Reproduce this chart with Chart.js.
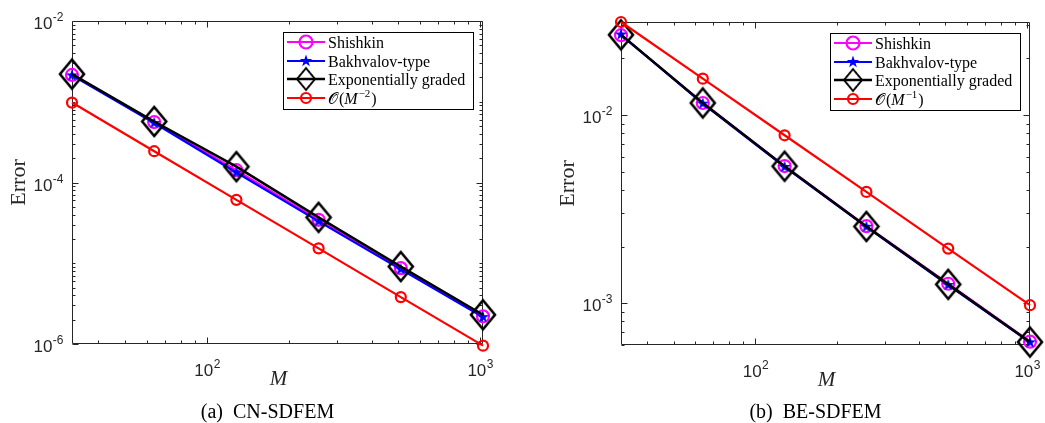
<!DOCTYPE html>
<html><head><meta charset="utf-8">
<script src="https://cdn.jsdelivr.net/npm/chart.js@4/dist/chart.umd.min.js"></script>
<style>
html,body{margin:0;padding:0;background:#fff;}
#wrap{position:relative;width:1045px;height:423px;overflow:hidden;background:#fff;}
canvas{position:absolute;top:0;}
</style></head><body>
<div id="wrap">
<canvas id="c1" width="522" height="423" style="left:0px"></canvas>
<canvas id="c2" width="523" height="423" style="left:522px"></canvas>
</div>
<script>
// ---- data ----
const M = [32, 64, 128, 256, 512, 1024];
// (a) CN-SDFEM
const shishkinCN  = [2.15e-3, 5.6e-4, 1.42e-4, 3.45e-5, 8.7e-6, 2.2e-6];
const bakhvalovCN = [2.12e-3, 5.45e-4, 1.33e-4, 3.3e-5, 8.4e-6, 2.15e-6];
const expCN       = [2.2e-3, 5.7e-4, 1.57e-4, 3.7e-5, 9.1e-6, 2.3e-6];
const refCN       = [9.77e-4, 2.44e-4, 6.1e-5, 1.53e-5, 3.81e-6, 9.54e-7];
// (b) BE-SDFEM
const shishkinBE  = [2.66e-2, 1.16e-2, 5.36e-3, 2.57e-3, 1.27e-3, 6.25e-4];
const bakhvalovBE = [2.68e-2, 1.15e-2, 5.3e-3, 2.55e-3, 1.25e-3, 6.2e-4];
const expBE       = [2.67e-2, 1.16e-2, 5.35e-3, 2.56e-3, 1.26e-3, 6.22e-4];
const refBE       = [3.125e-2, 1.5625e-2, 7.8125e-3, 3.906e-3, 1.953e-3, 9.766e-4];

const seriesNames = ['Shishkin', 'Bakhvalov-type', 'Exponentially graded'];
const xTickLabels = [{v: 100, e: '2'}, {v: 1000, e: '3'}];
const yTickLabelsCN = [{v: 1e-2, e: '-2'}, {v: 1e-4, e: '-4'}, {v: 1e-6, e: '-6'}];
const yTickLabelsBE = [{v: 1e-2, e: '-2'}, {v: 1e-3, e: '-3'}];

// ---- marker images ----
function makeStar(){
  const c = document.createElement('canvas'); c.width = 16; c.height = 16;
  const g = c.getContext('2d'); g.fillStyle = '#0000ff'; g.beginPath();
  const R = 6.5, r = 2.6;
  for (let i = 0; i < 10; i++) {
    const a = -Math.PI/2 + i*Math.PI/5, rr = i%2 ? r : R;
    const px = 8 + rr*Math.cos(a), py = 8 + rr*Math.sin(a);
    i ? g.lineTo(px, py) : g.moveTo(px, py);
  }
  g.closePath(); g.fill(); return c;
}
function makeDiamond(){
  const hw = 12, hh = 14.5, c = document.createElement('canvas');
  c.width = 2*hw + 6; c.height = 2*hh + 6;
  const g = c.getContext('2d'), cx = c.width/2, cy = c.height/2;
  g.strokeStyle = '#000'; g.lineWidth = 2.6; g.lineJoin = 'miter';
  g.beginPath(); g.moveTo(cx, cy-hh); g.lineTo(cx+hw, cy); g.lineTo(cx, cy+hh); g.lineTo(cx-hw, cy); g.closePath(); g.stroke();
  return c;
}
const starImg = makeStar(), diamondImg = makeDiamond();

function pts(arr){ return M.map((m, i) => ({x: m, y: arr[i]})); }

function datasets(sh, bk, ex, rf){
  return [
    {label: seriesNames[0], data: pts(sh), borderColor: '#ff00ff', borderWidth: 2.2, pointStyle: 'circle', pointRadius: 6, pointBorderWidth: 2.2, pointBorderColor: '#ff00ff', pointBackgroundColor: 'rgba(0,0,0,0)', order: 4, clip: false, tension: 0},
    {label: seriesNames[1], data: pts(bk), borderColor: '#0000ff', borderWidth: 2.2, pointStyle: starImg, pointRadius: 6, order: 3, clip: false, tension: 0},
    {label: seriesNames[2], data: pts(ex), borderColor: '#000000', borderWidth: 2.5, pointStyle: diamondImg, pointRadius: 12, order: 2, clip: false, tension: 0},
    {label: 'ref', data: pts(rf), borderColor: '#ff0000', borderWidth: 2.2, pointStyle: 'circle', pointRadius: 5, pointBorderWidth: 2.2, pointBorderColor: '#ff0000', pointBackgroundColor: 'rgba(0,0,0,0)', order: 1, clip: false, tension: 0}
  ];
}

const AX = '#262626';
function drawPow(ctx, x, y, exp, align){
  // y = baseline of "10"
  ctx.font = '17px "Liberation Sans", Arial, sans-serif';
  const w1 = ctx.measureText('10').width;
  ctx.font = '12px "Liberation Sans", Arial, sans-serif';
  const w2 = ctx.measureText(exp).width;
  let x0;
  if (align === 'right') x0 = x - w1 - w2; else x0 = x - (w1 + w2)/2;
  ctx.textAlign = 'left'; ctx.textBaseline = 'alphabetic';
  ctx.font = '17px "Liberation Sans", Arial, sans-serif';
  ctx.fillText('10', x0, y);
  ctx.font = '12px "Liberation Sans", Arial, sans-serif';
  ctx.fillText(exp, x0 + w1 + 0.5, y - 8);
}

function axesPlugin(cfg){
  return {
    id: 'matlabAxes',
    beforeDatasetsDraw(chart){
      const ctx = chart.ctx, a = chart.chartArea, xs = chart.scales.x, ys = chart.scales.y;
      const L = Math.round(a.left) + 0.5, R = Math.round(a.right) - 0.5, T = Math.round(a.top) + 0.5, B = Math.round(a.bottom) - 0.5;
      ctx.save();
      ctx.strokeStyle = AX; ctx.lineWidth = 1;
      ctx.beginPath(); ctx.rect(L, T, R - L, B - T); ctx.stroke();
      ctx.beginPath();
      for (let n = 1; n <= 3; n++) for (let k = 1; k <= 9; k++) {
        const v = k * Math.pow(10, n);
        if (v < xs.min * 0.999 || v > xs.max * 1.001) continue;
        const px = Math.round(xs.getPixelForValue(v)) + 0.5;
        const len = (k === 1) ? 6 : 3;
        ctx.moveTo(px, B); ctx.lineTo(px, B - len);
        ctx.moveTo(px, T); ctx.lineTo(px, T + len);
      }
      const majorsY = cfg.yLabels.map(o => o.v);
      for (let n = -7; n <= -1; n++) for (let k = 1; k <= 9; k++) {
        const v = k * Math.pow(10, n);
        if (v < ys.min * 0.999 || v > ys.max * 1.001) continue;
        const py = Math.round(ys.getPixelForValue(v)) + 0.5;
        const isMaj = majorsY.some(m => Math.abs(m - v) / m < 1e-6);
        const len = isMaj ? 6 : 3;
        ctx.moveTo(L, py); ctx.lineTo(L + len, py);
        ctx.moveTo(R, py); ctx.lineTo(R - len, py);
      }
      ctx.stroke();
      ctx.restore();
    },
    afterDraw(chart){
      const ctx = chart.ctx, a = chart.chartArea, xs = chart.scales.x, ys = chart.scales.y;
      ctx.save();
      ctx.fillStyle = AX;
      // tick labels
      xTickLabels.forEach(t => { drawPow(ctx, xs.getPixelForValue(t.v), a.bottom + 32, t.e, 'center'); });
      cfg.yLabels.forEach(t => { drawPow(ctx, a.left - 9, ys.getPixelForValue(t.v) + 8, t.e, 'right'); });
      // axis titles
      ctx.fillStyle = '#262626';
      ctx.font = 'italic 21px "Liberation Serif", "Times New Roman", serif';
      ctx.textAlign = 'center'; ctx.textBaseline = 'alphabetic';
      ctx.fillText('M', (a.left + a.right)/2 + 1, a.bottom + 41);
      ctx.save();
      ctx.translate(a.left - 53, (a.top + a.bottom)/2);
      ctx.rotate(-Math.PI/2);
      ctx.font = '22px "Liberation Serif", "Times New Roman", serif';
      ctx.textBaseline = 'middle';
      ctx.fillText('Error', 0, 0);
      ctx.restore();
      // caption
      ctx.fillStyle = '#000';
      ctx.font = '20px "Liberation Serif", "Times New Roman", serif';
      ctx.textAlign = 'center'; ctx.textBaseline = 'alphabetic';
      ctx.fillText(cfg.caption, (a.left + a.right)/2 - 10, 418);
      // legend
      const bx = a.right - 200, by = a.top + 11, bw = 190, bh = 77;
      ctx.fillStyle = '#fff'; ctx.fillRect(bx, by, bw, bh);
      ctx.strokeStyle = '#000'; ctx.lineWidth = 1;
      ctx.strokeRect(Math.round(bx) + 0.5, Math.round(by) + 0.5, bw, bh);
      const dsOrder = [0, 1, 2, 3];
      const rowY = [10, 29, 47, 66];
      dsOrder.forEach((di, r) => {
        const ds = chart.data.datasets[di];
        const y = by + rowY[r];
        const x1 = bx + 4, x2 = bx + 42, xm = bx + 23;
        ctx.strokeStyle = ds.borderColor; ctx.lineWidth = ds.borderWidth;
        ctx.beginPath(); ctx.moveTo(x1, y); ctx.lineTo(x2, y); ctx.stroke();
        if (ds.pointStyle === 'circle') {
          ctx.beginPath(); ctx.arc(xm, y, ds.pointRadius + (di === 0 ? 0.5 : 0), 0, 2*Math.PI);
          ctx.lineWidth = 2.2; ctx.strokeStyle = ds.borderColor; ctx.stroke();
        } else {
          const img = ds.pointStyle;
          const s = di === 2 ? 0.75 : 1;
          ctx.drawImage(img, xm - img.width*s/2, y - img.height*s/2, img.width*s, img.height*s);
        }
        // text
        ctx.fillStyle = '#000'; ctx.textAlign = 'left'; ctx.textBaseline = 'alphabetic';
        const tx = bx + 45, base = y + 5.5;
        if (di < 3) {
          ctx.font = '16px "Liberation Serif", "Times New Roman", serif';
          ctx.fillText(ds.label, tx, base);
        } else {
          let cx = tx;
          ctx.font = '16px "DejaVu Serif", "Liberation Serif", serif';
          ctx.fillText('\u{1D4AA}', cx, base); cx += ctx.measureText('\u{1D4AA}').width + 1;
          ctx.font = '16px "Liberation Serif", serif';
          ctx.fillText('(', cx, base); cx += ctx.measureText('(').width;
          ctx.font = 'italic 16px "Liberation Serif", serif';
          ctx.fillText('M', cx, base); cx += ctx.measureText('M').width + 1;
          ctx.font = '11px "Liberation Serif", serif';
          ctx.fillText(cfg.refExp, cx, base - 7); cx += ctx.measureText(cfg.refExp).width + 1;
          ctx.font = '16px "Liberation Serif", serif';
          ctx.fillText(')', cx, base);
        }
      });
      ctx.restore();
    }
  };
}

function makeChart(id, sets, yMin, yMax, pad, cfg){
  return new Chart(document.getElementById(id), {
    type: 'line',
    data: {datasets: sets},
    options: {
      responsive: false, animation: false, devicePixelRatio: 1,
      layout: {padding: pad},
      plugins: {legend: {display: false}, tooltip: {enabled: false}, title: {display: false}},
      scales: {
        x: {type: 'logarithmic', min: 32, max: 1024, display: false},
        y: {type: 'logarithmic', min: yMin, max: yMax, display: false}
      }
    },
    plugins: [axesPlugin(cfg)]
  });
}

makeChart('c1', datasets(shishkinCN, bakhvalovCN, expCN, refCN), 1e-6, 1e-2,
  {left: 72, right: 39, top: 21, bottom: 79},
  {yLabels: yTickLabelsCN, caption: '(a)  CN-SDFEM', refExp: '\u22122'});
makeChart('c2', datasets(shishkinBE, bakhvalovBE, expBE, refBE), 6.2e-4, 3.125e-2,
  {left: 99, right: 15, top: 22, bottom: 78},
  {yLabels: yTickLabelsBE, caption: '(b)  BE-SDFEM', refExp: '\u22121'});
</script>
</body></html>
